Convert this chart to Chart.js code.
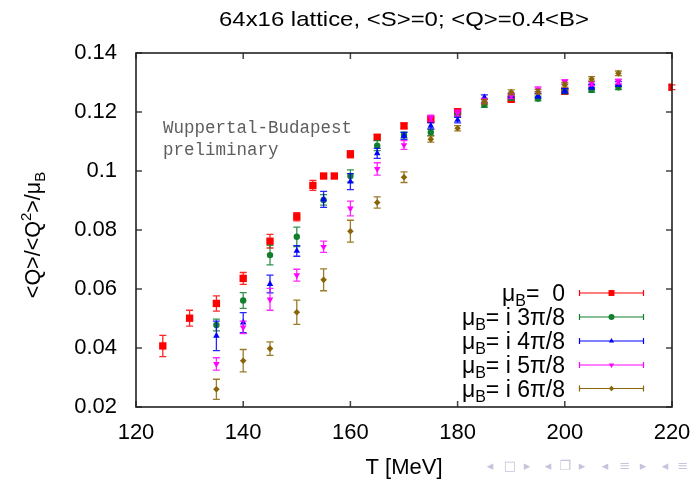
<!DOCTYPE html>
<html>
<head>
<meta charset="utf-8">
<script src="https://cdn.jsdelivr.net/npm/chart.js@4"></script>
<style>
  html, body { margin: 0; padding: 0; background: #fff; }
  #wrap { width: 697px; height: 479px; }
</style>
</head>
<body>
<div id="wrap"><canvas id="chart" width="697" height="479"></canvas></div>
<script>
// temperatures (MeV) for each series
const tempsMu0 = [125, 130, 135, 140, 145, 150, 153, 155, 157, 160, 165, 170, 175, 180, 190, 200, 220];
const tempsImag = [135, 140, 145, 150, 155, 160, 165, 170, 175, 180, 185, 190, 195, 200, 205, 210];

// <Q>/<Q^2>/mu_B values
const ratioMu0 = [0.0407, 0.0501, 0.0551, 0.0636, 0.0762, 0.0845, 0.0951, 0.0983, 0.0983, 0.1057, 0.1114, 0.1153, 0.1175, 0.1201, 0.1243, 0.1270, 0.1284];
const ratio3pi8 = [0.0478, 0.0561, 0.0715, 0.0777, 0.0902, 0.0983, 0.1086, 0.1122, 0.1131, 0.1190, 0.1224, 0.1248, 0.1246, 0.1270, 0.1275, 0.1284];
const ratio4pi8 = [0.0441, 0.0486, 0.0617, 0.0729, 0.0904, 0.0964, 0.1060, 0.1119, 0.1153, 0.1173, 0.1250, 0.1255, 0.1255, 0.1272, 0.1286, 0.1295];
const ratio5pi8 = [0.0346, 0.0470, 0.0565, 0.0647, 0.0743, 0.0873, 0.1007, 0.1088, 0.1179, 0.1196, 0.1238, 0.1254, 0.1277, 0.1302, 0.1297, 0.1303];
const ratio6pi8 = [0.0260, 0.0357, 0.0398, 0.0521, 0.0631, 0.0796, 0.0893, 0.0979, 0.1108, 0.1145, 0.1235, 0.1267, 0.1269, 0.1292, 0.1312, 0.1331];

// error bars (half length)
const errMu0 = [0.0036, 0.0027, 0.0026, 0.0020, 0.0023, 0.0014, 0.0017, 0.0008, 0.0008, 0.0012, 0.0010, 0.0009, 0.0008, 0.0008, 0.0008, 0.0008, 0.0008];
const err3pi8 = [0.0020, 0.0027, 0.0033, 0.0033, 0.0018, 0.0021, 0.0017, 0.0010, 0.0010, 0.0008, 0.0008, 0.0008, 0.0008, 0.0008, 0.0008, 0.0008];
const err4pi8 = [0.0050, 0.0034, 0.0030, 0.0018, 0.0027, 0.0027, 0.0017, 0.0012, 0.0010, 0.0010, 0.0008, 0.0008, 0.0008, 0.0008, 0.0008, 0.0008];
const err5pi8 = [0.0021, 0.0021, 0.0037, 0.0020, 0.0019, 0.0025, 0.0021, 0.0015, 0.0010, 0.0010, 0.0008, 0.0008, 0.0008, 0.0008, 0.0008, 0.0008];
const err6pi8 = [0.0034, 0.0038, 0.0023, 0.0041, 0.0037, 0.0037, 0.0019, 0.0018, 0.0010, 0.0009, 0.0008, 0.0008, 0.0008, 0.0008, 0.0008, 0.0008];

// legend text after "mu_B"
const legendLabels = ['=  0', '= i 3\u03c0/8', '= i 4\u03c0/8', '= i 5\u03c0/8', '= i 6\u03c0/8'];

// axis ticks
const xTicks = [120, 140, 160, 180, 200, 220];
const yTicks = [0.02, 0.04, 0.06, 0.08, 0.10, 0.12, 0.14];

const colors = ['#ff0000', '#127f2e', '#0000ff', '#ff00ff', '#8a6508'];
const styles = ['rect', 'circle', 'triangle', 'triangle', 'rectRot'];
const rotations = [0, 0, 0, 180, 0];
const radii = [5.2, 3.2, 3.8, 3.8, 3.3];

function pts(ts, vs) {
  let out = [];
  for (let i = 0; i < ts.length; i++) {
    out.push({x: ts[i], y: vs[i]});
  }
  return out;
}

const seriesT = [tempsMu0, tempsImag, tempsImag, tempsImag, tempsImag];
const seriesV = [ratioMu0, ratio3pi8, ratio4pi8, ratio5pi8, ratio6pi8];
const seriesE = [errMu0, err3pi8, err4pi8, err5pi8, err6pi8];

let datasets = [];
for (let i = 0; i < 5; i++) {
  datasets.push({
    label: 'mu' + legendLabels[i],
    data: pts(seriesT[i], seriesV[i]),
    errors: seriesE[i],
    backgroundColor: colors[i],
    borderColor: colors[i],
    borderWidth: 0,
    pointStyle: styles[i],
    rotation: rotations[i],
    pointRadius: radii[i],
    order: 5 - i   //red at the bottom, brown on top
  });
}

const FONT = 'Liberation Sans, Arial, sans-serif';

// error bars, drawn just before each dataset's markers
const errorBars = {
  id: 'errorBars',
  beforeDatasetDraw(chart, args) {
    const ctx = chart.ctx;
    const ds = chart.data.datasets[args.index];
    const ys = chart.scales.y;
    ctx.save();
    ctx.strokeStyle = ds.borderColor;
    ctx.globalAlpha = 0.85;
    ctx.lineWidth = 1.3;
    args.meta.data.forEach(function (el, j) {
      const v = ds.data[j].y;
      const e = ds.errors[j];
      const top = ys.getPixelForValue(v + e);
      const bot = ys.getPixelForValue(v - e);
      const x = el.x;
      ctx.beginPath();
      ctx.moveTo(x, top); ctx.lineTo(x, bot);
      ctx.moveTo(x - 3.5, top); ctx.lineTo(x + 3.5, top);
      ctx.moveTo(x - 3.5, bot); ctx.lineTo(x + 3.5, bot);
      ctx.stroke();
    });
    ctx.restore();
  }
};

// frame, inward ticks, titles, legend, notes
const decorations = {
  id: 'decorations',
  afterDraw(chart) {
    const ctx = chart.ctx;
    const a = chart.chartArea;
    const xs = chart.scales.x, ys = chart.scales.y;
    ctx.save();

    // inward ticks on all four sides
    ctx.strokeStyle = '#444';
    ctx.lineWidth = 1.5;
    ctx.beginPath();
    xTicks.forEach(function (t) {
      const px = xs.getPixelForValue(t);
      ctx.moveTo(px, a.bottom); ctx.lineTo(px, a.bottom - 6);
      ctx.moveTo(px, a.top); ctx.lineTo(px, a.top + 6);
    });
    yTicks.forEach(function (t) {
      const py = ys.getPixelForValue(t);
      ctx.moveTo(a.left, py); ctx.lineTo(a.left + 6, py);
      ctx.moveTo(a.right, py); ctx.lineTo(a.right - 6, py);
    });
    ctx.stroke();

    // border box
    ctx.strokeStyle = '#222';
    ctx.lineWidth = 1.6;
    ctx.strokeRect(a.left, a.top, a.right - a.left, a.bottom - a.top);

    // title (stretched a bit to the width of the original)
    ctx.fillStyle = '#000';
    ctx.textAlign = 'center';
    ctx.textBaseline = 'alphabetic';
    ctx.font = '21px ' + FONT;
    const title = '64x16 lattice, <S>=0; <Q>=0.4<B>';
    const tw = ctx.measureText(title).width;
    ctx.save();
    ctx.translate(404, 26);
    ctx.scale(370 / tw, 1);
    ctx.fillText(title, 0, 0);
    ctx.restore();

    // x axis title
    ctx.font = '22px ' + FONT;
    ctx.fillText('T [MeV]', (a.left + a.right) / 2, 474);

    // y axis title, rotated, with super/subscript
    ctx.save();
    ctx.translate(40, (a.top + a.bottom) / 2 + 5);
    ctx.rotate(-Math.PI / 2);
    ctx.textAlign = 'left';
    const yBig = '21.5px ' + FONT, ySmall = '15px ' + FONT;
    const parts = [['<Q>/<Q', yBig, 0], ['2', ySmall, -9], ['>/\u03bc', yBig, 0], ['B', ySmall, 5]];
    let w = 0;
    parts.forEach(function (p) { ctx.font = p[1]; w += ctx.measureText(p[0]).width; });
    let cx = -w / 2;
    parts.forEach(function (p) {
      ctx.font = p[1];
      ctx.fillText(p[0], cx, p[2]);
      cx += ctx.measureText(p[0]).width;
    });
    ctx.restore();

    // Wuppertal-Budapest note
    ctx.fillStyle = '#5f5f5f';
    ctx.textAlign = 'left';
    ctx.font = '17.5px Liberation Mono, monospace';
    ctx.fillText('Wuppertal-Budapest', 163, 133);
    ctx.fillText('preliminary', 163, 155);

    // legend
    const big = '23px ' + FONT, small = '16px ' + FONT;
    const rowY = [293, 317, 341, 365, 388.5];
    for (let i = 0; i < 5; i++) {
      const y = rowY[i];
      ctx.fillStyle = '#000';
      ctx.textAlign = 'left';
      ctx.font = big;
      const restW = ctx.measureText(legendLabels[i]).width;
      const muW = ctx.measureText('\u03bc').width;
      ctx.font = small;
      const bW = ctx.measureText('B').width;
      let x0 = 565 - restW - bW - muW;
      ctx.font = big;
      ctx.fillText('\u03bc', x0, y + 8);
      ctx.font = small;
      ctx.fillText('B', x0 + muW, y + 13);
      ctx.font = big;
      ctx.fillText(legendLabels[i], x0 + muW + bW, y + 8);

      ctx.strokeStyle = colors[i];
      ctx.lineWidth = 1.2;
      ctx.beginPath();
      ctx.moveTo(579.5, y); ctx.lineTo(643.5, y);
      ctx.moveTo(579.5, y - 3); ctx.lineTo(579.5, y + 3);
      ctx.moveTo(643.5, y - 3); ctx.lineTo(643.5, y + 3);
      ctx.stroke();
      ctx.fillStyle = colors[i];
      Chart.helpers.drawPoint(ctx, {
        pointStyle: styles[i], rotation: rotations[i],
        radius: [4.2, 3, 3, 3, 2.8][i], borderWidth: 0
      }, 611.5, y);
    }

    // beamer navigation symbols
    ctx.fillStyle = '#c4c4dc';
    ctx.textAlign = 'center';
    ctx.font = '13px DejaVu Sans, sans-serif';
    const nav = [['\u25c2', 490], ['\u25a1', 510], ['\u25b8', 527], ['\u25c2', 548], ['\u2750', 565], ['\u25b8', 582],
                 ['\u25c2', 605], ['\u2261', 625], ['\u25b8', 643], ['\u25c2', 665], ['\u2261', 683]];
    nav.forEach(function (n) { ctx.fillText(n[0], n[1], 470); });

    ctx.restore();
  }
};

const ctx = document.getElementById('chart').getContext('2d');
const myChart = new Chart(ctx, {
  type: 'scatter',
  data: { datasets: datasets },
  options: {
    responsive: false,
    animation: false,
    layout: { padding: { top: 53, right: 25, left: 0, bottom: 0 } },
    plugins: { legend: { display: false }, tooltip: { enabled: false }, title: { display: false } },
    scales: {
      x: {
        type: 'linear', min: 120, max: 220,
        afterBuildTicks: function (s) { s.ticks = xTicks.map(function (v) { return {value: v}; }); },
        afterFit: function (s) { s.height = 72; },
        grid: { display: false },
        border: { display: false },
        ticks: { color: '#000', font: { size: 22, family: FONT }, padding: 5, maxRotation: 0 }
      },
      y: {
        type: 'linear', min: 0.02, max: 0.14,
        afterBuildTicks: function (s) { s.ticks = yTicks.map(function (v) { return {value: v}; }); },
        afterFit: function (s) { s.width = 136; },
        grid: { display: false },
        border: { display: false },
        ticks: {
          color: '#000', font: { size: 22, family: FONT }, padding: 11,
          callback: function (v) { return String(Number(v.toFixed(2))); }
        }
      }
    }
  },
  plugins: [errorBars, decorations]
});
</script>
</body>
</html>
